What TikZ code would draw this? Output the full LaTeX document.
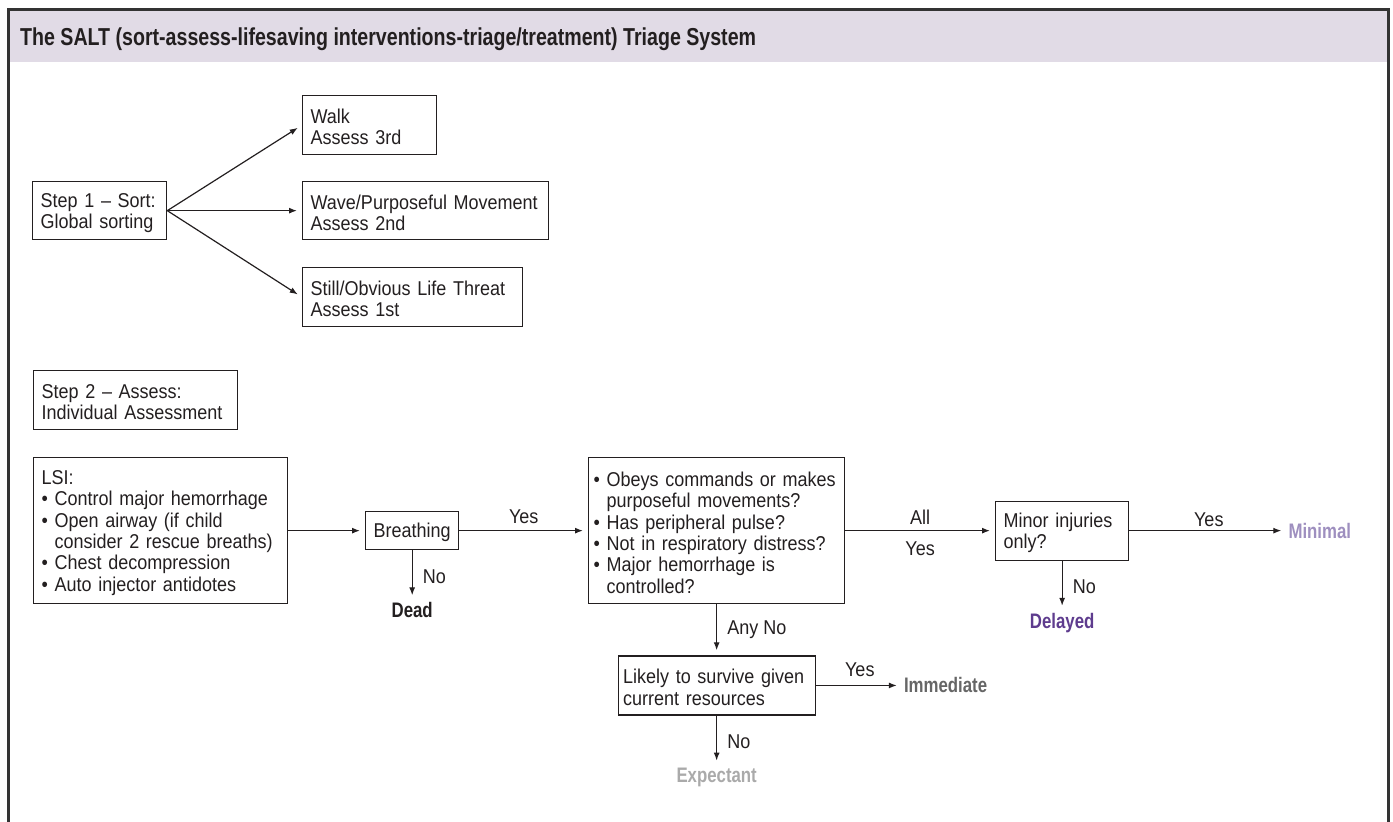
\documentclass[tikz,border=0pt]{standalone}
\usepackage{fontspec}
\setmainfont{Liberation Sans}[FakeStretch=0.9]
\newfontfamily\condbf{Liberation Sans Bold}[FakeStretch=0.8]
\usetikzlibrary{arrows.meta,positioning}

\definecolor{ink}{HTML}{231F20}
\definecolor{framegray}{HTML}{333333}
\definecolor{headfill}{HTML}{E1DBE6}
\definecolor{minimalc}{HTML}{9E8FBF}
\definecolor{delayedc}{HTML}{5E3C8E}
\definecolor{immedc}{HTML}{666666}
\definecolor{expectc}{HTML}{AAAAAA}

\newcommand{\bul}{\textbullet\ }
\newcommand{\hang}{\phantom{\textbullet\ }}

\tikzset{
  box/.style={draw=ink, line width=1.3pt, anchor=north west, align=left, inner xsep=8pt, inner ysep=0pt, text height=18.5pt, text=ink, font=\fontsize{20}{21.3}\selectfont},
  arr/.style={-{Latex[length=8pt,width=6pt]}, line width=1.2pt, draw=ink, shorten >=5pt},
  lbl/.style={inner sep=0pt, text=ink, font=\fontsize{20}{21.3}\selectfont},
  outc/.style={inner sep=0pt, font=\condbf\fontsize{21}{24}\selectfont},
}

\begin{document}
\begin{tikzpicture}[x=1pt,y=-1pt]
\useasboundingbox (0,0) rectangle (1393,822);
\fill[headfill] (8,10) rectangle (1389,62);
\draw[framegray, line width=2.6pt] (8.3,823) -- (8.3,9.5) -- (1388.7,9.5) -- (1388.7,823);

\node[anchor=base west, inner sep=0pt, text=ink, font=\condbf\fontsize{24.5}{28}\selectfont] (title) at (20,45) {The SALT (sort-assess-lifesaving interventions-triage/treatment) Triage System};

\node[box, text width=118pt, minimum height=58pt] (step1) at (32,181) {Step 1 -- Sort:\\Global sorting};
\node[box, text width=118pt, minimum height=59pt] (walk) at (302,95) {Walk\\Assess 3rd};
\node[box, text width=230pt, minimum height=58pt] (wave) at (302,181) {Wave/Purposeful Movement\\Assess 2nd};
\node[box, text width=204pt, minimum height=59pt] (still) at (302,267) {Still/Obvious Life Threat\\Assess 1st};

\draw[arr] (step1.east) -- (walk.west);
\draw[arr] (step1.east) -- (wave.west);
\draw[arr] (step1.east) -- (still.west);

\node[box, text width=188pt, minimum height=59pt] (step2) at (33,370) {Step 2 -- Assess:\\Individual Assessment};

\node[box, text width=238pt, minimum height=146pt] (lsi) at (33,457) {LSI:\\\bul Control major hemorrhage\\\bul Open airway (if child\\\hang consider 2 rescue breaths)\\\bul Chest decompression\\\bul Auto injector antidotes};
\node[box, minimum height=38pt] (breath) at (365,511) {Breathing};
\node[box, inner xsep=5pt, text width=246pt, minimum height=146pt] (obeys) at (588,457) {\bul Obeys commands or makes\\\hang purposeful movements?\\\bul Has peripheral pulse?\\\bul Not in respiratory distress?\\\bul Major hemorrhage is\\\hang controlled?};
\node[box, text width=117pt, minimum height=59pt] (minor) at (995,500.5) {Minor injuries\\only?};
\node[box, inner xsep=5pt, text width=187pt, minimum height=59pt, anchor=north, below=51pt of obeys] (likely) {Likely to survive given\\current resources};

\node[outc, text=ink, below=52pt of breath] (dead) {Dead};
\node[outc, text=delayedc, below=52pt of minor] (delayed) {Delayed};
\node[outc, text=minimalc, right=159pt of minor] (minimal) {Minimal};
\node[outc, text=immedc, right=88pt of likely] (immediate) {Immediate};
\node[outc, text=expectc, below=52pt of likely] (expectant) {Expectant};

\draw[arr] (lsi) -- (breath);
\draw[arr] (breath) -- node[lbl, above=6pt] {Yes} (obeys);
\draw[arr, shorten >=7pt] (breath) -- node[lbl, right=10pt] {No} (dead);
\draw[arr] (obeys) -- node[lbl, above=6pt] {All} node[lbl, below=10pt] {Yes} (minor);
\draw[arr] (obeys) -- node[lbl, right=10pt] {Any No} (likely);
\draw[arr, shorten >=7pt] (minor) -- node[lbl, above=3pt] {Yes} (minimal);
\draw[arr, shorten >=7pt] (minor) -- node[lbl, right=10pt] {No} (delayed);
\draw[arr, shorten >=7pt] (likely) -- node[lbl, above=8pt] {Yes} (immediate);
\draw[arr, shorten >=7pt] (likely) -- node[lbl, right=10pt] {No} (expectant);
\end{tikzpicture}
\end{document}
